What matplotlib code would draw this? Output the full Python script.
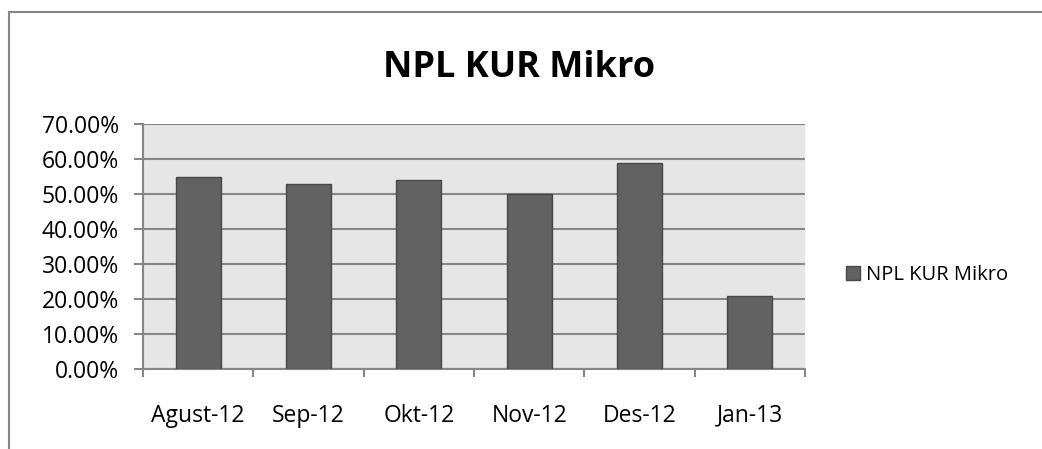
import matplotlib
matplotlib.use("Agg")
import matplotlib.pyplot as plt
from matplotlib.lines import Line2D
from matplotlib.ticker import FuncFormatter, FixedLocator

bulan = ["Agust-12", "Sep-12", "Okt-12", "Nov-12", "Des-12", "Jan-13"]
npl = [55.0, 53.0, 54.0, 50.0, 59.0, 21.0]
y_ticks = [0, 10, 20, 30, 40, 50, 60, 70]

plt.rcParams["font.family"] = ["Open Sans", "DejaVu Sans"]

W, H = 1042, 449
fig = plt.figure(figsize=(W / 100, H / 100), dpi=100)
ax = fig.add_axes([143 / W, 1 - 369 / H, (805 - 143) / W, (369 - 124) / H])

grid_c = "#868686"
x = list(range(len(bulan)))
ax.bar(x, npl, width=0.41, color="#626262", edgecolor="#484848", linewidth=1.0,
       label="NPL KUR Mikro", zorder=3)

ax.set_facecolor("#E6E6E6")
ax.set_xlim(-0.5, len(bulan) - 0.5)
ax.set_ylim(0, 70)
ax.set_yticks(y_ticks)
ax.yaxis.set_major_formatter(FuncFormatter(lambda v, p: f"{v:.2f}%"))
ax.yaxis.grid(True, color=grid_c, linewidth=1.5, zorder=1)
ax.set_axisbelow(True)

# category labels centred, tick marks at boundaries
ax.set_xticks(x)
ax.set_xticklabels(bulan)
ax.tick_params(axis="x", which="major", length=0, pad=25, labelsize=16.5)
ax.xaxis.set_minor_locator(FixedLocator([i - 0.5 for i in range(len(bulan) + 1)]))
ax.tick_params(axis="x", which="minor", length=6, width=1.5, color=grid_c)
ax.tick_params(axis="y", length=6.5, width=1.5, color=grid_c, labelsize=16.5, pad=11)

for s in ["top", "right"]:
    ax.spines[s].set_visible(False)
for s in ["left", "bottom"]:
    ax.spines[s].set_color(grid_c)
    ax.spines[s].set_linewidth(1.5)

fig.text(519 / W, 1 - 68 / H, "NPL KUR Mikro", ha="center", va="center",
         fontsize=26, fontweight="bold")

ax.legend(loc="center left", bbox_to_anchor=(828 / W, 1 - 275 / H),
          bbox_transform=fig.transFigure, frameon=False, fontsize=14.5,
          handlelength=0.7, handleheight=0.7, handletextpad=0.3)

# outer chart frame (cropped at right and bottom)
fx, fy = 9 / W, 1 - 12 / H
fig.add_artist(Line2D([fx, fx], [0, fy], transform=fig.transFigure, color=grid_c, linewidth=1.5))
fig.add_artist(Line2D([fx, 1], [fy, fy], transform=fig.transFigure, color=grid_c, linewidth=1.5))

fig.savefig("out.png", dpi=100, facecolor="white")
